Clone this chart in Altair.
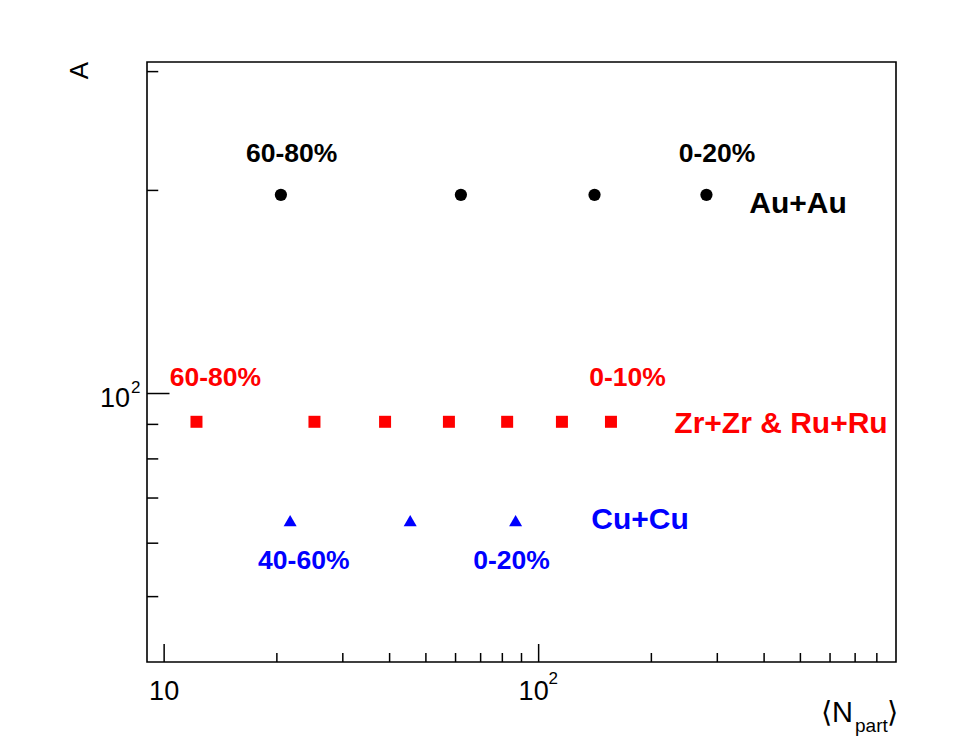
import altair as alt
import pandas as pd

# ---- data ----
au_npart = [20.5, 62.0, 141.0, 280.6]
au_A = [197.0, 197.0, 197.0, 197.0]
zr_npart = [12.2, 25.2, 38.9, 57.6, 82.4, 115.4, 156.0]
zr_A = [90.8, 90.8, 90.8, 90.8, 90.8, 90.8, 90.8]
cu_npart = [21.7, 45.4, 86.8]
cu_A = [64.8, 64.8, 64.8]

au_cent_text = ["60-80%", "0-20%"]
au_cent_npart = [21.9, 299.4]
au_cent_A = [226.7, 226.7]
zr_cent_text = ["60-80%", "0-10%"]
zr_cent_npart = [13.7, 172.7]
zr_cent_A = [105.3, 105.3]
cu_cent_text = ["40-60%", "0-20%"]
cu_cent_npart = [23.6, 84.6]
cu_cent_A = [56.4, 56.4]

sys_text = ["Au+Au", "Zr+Zr & Ru+Ru", "Cu+Cu"]
sys_npart = [492.7, 443.8, 186.5]
sys_A = [190.8, 90.0, 64.9]

x_major_ticks = [10, 100]
x_tick_mantissa = ["10", "10"]
x_tick_exponent = ["", "2"]
x_minor_ticks = [20, 30, 40, 50, 60, 70, 80, 90, 200, 300, 400, 500, 600, 700, 800]
y_major_ticks = [100]
y_tick_mantissa = ["10"]
y_tick_exponent = ["2"]
y_minor_ticks = [50, 60, 70, 80, 90, 200, 300]
x_domain = [9, 900]
y_domain = [40, 310]

W, H = 749, 600
FONT = "Liberation Sans"

xs = alt.Scale(type="log", domain=x_domain, nice=False, zero=False)
ys = alt.Scale(type="log", domain=y_domain, nice=False, zero=False)


def X(field="n"):
    return alt.X(f"{field}:Q", scale=xs, axis=None)


def Y(field="a"):
    return alt.Y(f"{field}:Q", scale=ys, axis=None)


def points(nn, aa, shape, color, size):
    df = pd.DataFrame({"n": nn, "a": aa})
    return alt.Chart(df).mark_point(
        shape=shape, filled=True, color=color, size=size, opacity=1
    ).encode(x=X(), y=Y())


def texts(tt, nn, aa, color, size):
    df = pd.DataFrame({"t": tt, "n": nn, "a": aa})
    return alt.Chart(df).mark_text(
        font=FONT, fontWeight="bold", fontSize=size, color=color,
        align="center", baseline="middle"
    ).encode(x=X(), y=Y(), text="t:N")


layers = []

# inward tick marks
layers.append(
    alt.Chart(pd.DataFrame({"v": x_major_ticks})).mark_rule(color="black", strokeWidth=1.5).encode(
        x=X("v"), y=alt.value(H), y2=alt.value(H - 18)))
layers.append(
    alt.Chart(pd.DataFrame({"v": x_minor_ticks})).mark_rule(color="black", strokeWidth=1.5).encode(
        x=X("v"), y=alt.value(H), y2=alt.value(H - 9)))
layers.append(
    alt.Chart(pd.DataFrame({"v": y_major_ticks})).mark_rule(color="black", strokeWidth=1.5).encode(
        y=Y("v"), x=alt.value(0), x2=alt.value(22.5)))
layers.append(
    alt.Chart(pd.DataFrame({"v": y_minor_ticks})).mark_rule(color="black", strokeWidth=1.5).encode(
        y=Y("v"), x=alt.value(0), x2=alt.value(11.25)))

# tick labels (mantissa + superscript exponent, ROOT style)
xl = pd.DataFrame({"v": x_major_ticks, "m": x_tick_mantissa, "e": x_tick_exponent})
xl_plain = xl[xl["e"] == ""]
xl_pow = xl[xl["e"] != ""]
layers.append(alt.Chart(xl_plain).mark_text(
    font=FONT, fontSize=27, color="black", align="center", baseline="alphabetic"
).encode(x=X("v"), y=alt.value(H + 38), text="m:N"))
layers.append(alt.Chart(xl_pow).mark_text(
    font=FONT, fontSize=27, color="black", align="center", baseline="alphabetic", dx=-5
).encode(x=X("v"), y=alt.value(H + 38), text="m:N"))
layers.append(alt.Chart(xl_pow).mark_text(
    font=FONT, fontSize=17, color="black", align="center", baseline="alphabetic", dx=14.5
).encode(x=X("v"), y=alt.value(H + 22), text="e:N"))

yl = pd.DataFrame({"v": y_major_ticks, "m": y_tick_mantissa, "e": y_tick_exponent})
layers.append(alt.Chart(yl).mark_text(
    font=FONT, fontSize=27, color="black", align="right", baseline="alphabetic", dy=13.5
).encode(y=Y("v"), x=alt.value(-17), text="m:N"))
layers.append(alt.Chart(yl).mark_text(
    font=FONT, fontSize=17, color="black", align="left", baseline="alphabetic", dy=-0.5
).encode(y=Y("v"), x=alt.value(-16), text="e:N"))

# data points
layers.append(points(au_npart, au_A, "circle", "black", 150))
layers.append(points(zr_npart, zr_A, "square", "#ff0000", 144))
layers.append(points(cu_npart, cu_A, "triangle-up", "#0000ff", 170))

# centrality labels
layers.append(texts(au_cent_text, au_cent_npart, au_cent_A, "black", 26.5))
layers.append(texts(zr_cent_text, zr_cent_npart, zr_cent_A, "#ff0000", 26.5))
layers.append(texts(cu_cent_text, cu_cent_npart, cu_cent_A, "#0000ff", 26.5))

# system labels
layers.append(texts(sys_text[0:1], sys_npart[0:1], sys_A[0:1], "black", 30))
layers.append(texts(sys_text[1:2], sys_npart[1:2], sys_A[1:2], "#ff0000", 30))
layers.append(texts(sys_text[2:3], sys_npart[2:3], sys_A[2:3], "#0000ff", 30))

# axis titles
base = alt.Chart(pd.DataFrame({"d": [0]}))
layers.append(base.mark_text(font=FONT, fontSize=26, color="black", angle=270,
                             align="center", baseline="middle").encode(
    x=alt.value(-67), y=alt.value(8.5), text=alt.value("A")))
layers.append(base.mark_text(font=FONT, fontSize=29, color="black",
                             align="right", baseline="alphabetic").encode(
    x=alt.value(706), y=alt.value(659.7), text=alt.value("\u27e8N")))
layers.append(base.mark_text(font=FONT, fontSize=19, color="black",
                             align="left", baseline="alphabetic").encode(
    x=alt.value(708), y=alt.value(670), text=alt.value("part")))
layers.append(base.mark_text(font=FONT, fontSize=29, color="black",
                             align="left", baseline="alphabetic").encode(
    x=alt.value(740), y=alt.value(659.7), text=alt.value("\u27e9")))

chart = alt.layer(*layers).properties(
    width=W, height=H,
    padding={"left": 139, "top": 54, "right": 60, "bottom": 78},
    autosize=alt.AutoSizeParams(type="none"),
    background="white",
).configure_view(stroke="black", strokeWidth=1.6)

chart.save("out.html", embed_options={"renderer": "svg", "actions": False})
